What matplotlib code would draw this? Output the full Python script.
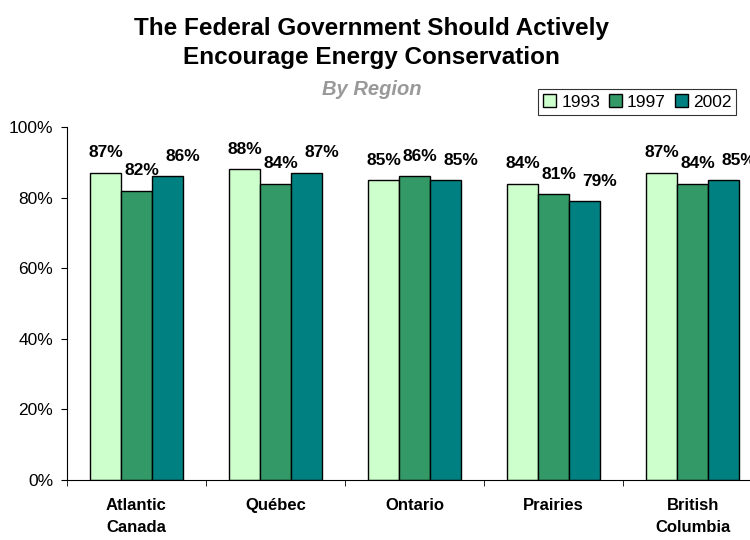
import numpy as np
import matplotlib.pyplot as plt

plt.rcParams['font.family'] = ['Liberation Sans', 'DejaVu Sans']

# survey results by region
regions = ["Atlantic\nCanada", "Québec", "Ontario", "Prairies", "British\nColumbia"]
years = ["1993", "1997", "2002"]
v1993 = [87, 88, 85, 84, 87]
v1997 = [82, 84, 86, 81, 84]
v2002 = [86, 87, 85, 79, 85]
colors = ["#CCFFCC", "#339966", "#008080"]

fig = plt.figure(figsize=(7.5, 5.4), dpi=100)
ax = fig.add_axes([0.0893, 0.111, 0.927, 0.6537])

x = np.arange(len(regions))
w = 0.223
series = [v1993, v1997, v2002]
label_dx = [0, 3.8, 11]  # labels of later series sit a little to the right
for i, (vals, c, yr) in enumerate(zip(series, colors, years)):
    pos = x + (i - 1) * w
    bars = ax.bar(pos, vals, w, color=c, edgecolor="black", linewidth=1.0,
                  label=yr, zorder=2)
    for b, v in zip(bars, vals):
        ax.annotate(f"{v}%", (b.get_x() + b.get_width() / 2, v),
                    xytext=(label_dx[i], 9), textcoords="offset points",
                    ha="center", va="bottom", fontsize=12.5, fontweight="bold")

ax.set_xlim(-0.5, len(regions) - 0.5)
ax.set_ylim(0, 100)
ax.set_yticks(range(0, 101, 20))
ax.set_yticklabels([f"{t}%" for t in range(0, 101, 20)], fontsize=12.5)
ax.set_xticks(x)
ax.set_xticklabels(regions, fontsize=12, fontweight="bold", linespacing=1.55)
ax.tick_params(axis="x", length=0, pad=13)
ax.set_xticks(np.arange(len(regions) + 1) - 0.5, minor=True)
ax.tick_params(axis="x", which="minor", length=4, direction="out")
ax.tick_params(axis="y", length=4, direction="out", pad=6)

for s in ["top", "right"]:
    ax.spines[s].set_visible(False)

fig.text(0.495, 0.920, "The Federal Government Should Actively\nEncourage Energy Conservation",
         ha="center", va="center", fontsize=17.5, fontweight="bold", linespacing=1.35)
fig.text(0.496, 0.834, "By Region", ha="center", va="center", fontsize=14.5,
         fontweight="bold", style="italic", color="#999999")

leg = fig.legend(loc="upper left", bbox_to_anchor=(0.717, 0.835), ncol=3,
                 frameon=True, fancybox=False, edgecolor="black", fontsize=12.5,
                 handlelength=0.75, handleheight=0.75, handletextpad=0.3,
                 columnspacing=0.5, borderpad=0.3, borderaxespad=0)
leg.get_frame().set_linewidth(0.8)

fig.savefig("out.png", dpi=100)
